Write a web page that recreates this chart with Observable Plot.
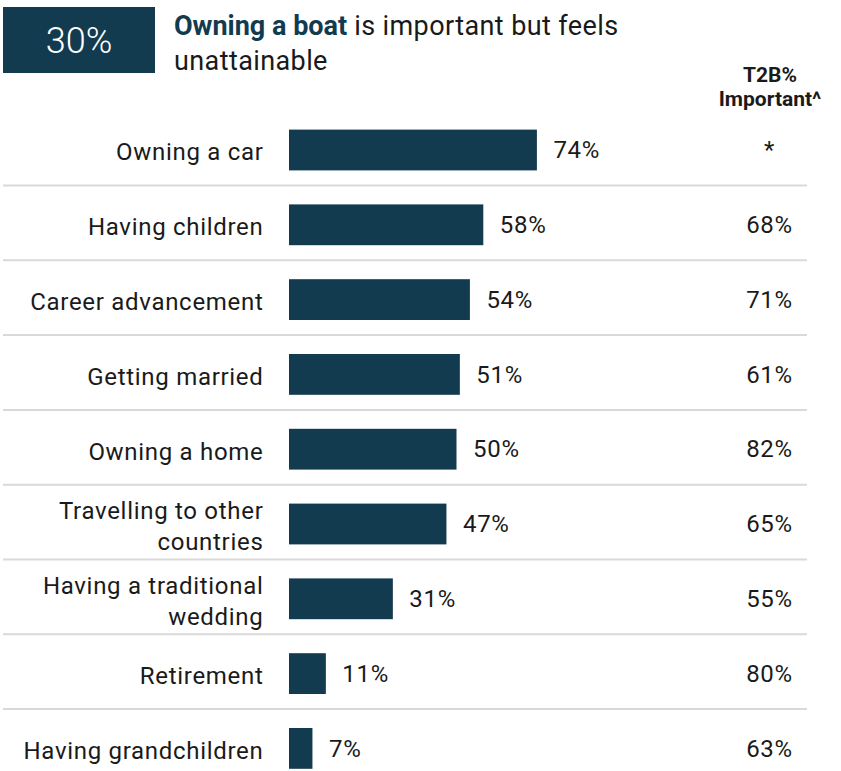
<!DOCTYPE html>
<html><head><meta charset="utf-8">
<script src="https://cdn.jsdelivr.net/npm/d3@7"></script>
<script src="https://cdn.jsdelivr.net/npm/@observablehq/plot@0.6"></script>
<style>
body{margin:0;background:#fff;font-family:Roboto,sans-serif;}
#wrap{position:relative;width:841px;height:771px;}
#wrap svg{position:absolute;left:0;top:0;}
#badge{position:absolute;left:3px;top:7px;width:152px;height:66px;background:#133b4f;color:#fff;font-weight:300;font-size:36px;display:flex;align-items:center;justify-content:center;padding-top:2px;box-sizing:border-box;}
.tl{position:absolute;left:174px;font-size:27px;letter-spacing:0.4px;line-height:35px;color:#1a1a1a;white-space:nowrap;}
#t1{top:9px;display:flex;}
#t2{top:44px;}
#t1 .b{color:#133b4f;font-weight:700;letter-spacing:0;}
#t1 .r{margin-left:7px;}
#colhead{position:absolute;left:705px;width:130px;top:63px;text-align:center;font-weight:700;font-size:21px;line-height:24px;color:#1a1a1a;}
</style></head>
<body><div id="wrap">
<div id="badge">30%</div>
<div class="tl" id="t1"><span class="b">Owning a boat</span><span class="r">is important but feels</span></div>
<div class="tl" id="t2">unattainable</div>
<div id="colhead">T2B%<br>Important^</div>
</div>
<script>
const categories = ["Owning a car","Having children","Career advancement","Getting married","Owning a home","Travelling to other\ncountries","Having a traditional\nwedding","Retirement","Having grandchildren"];
const unattainable = [74,58,54,51,50,47,31,11,7];
const important = [null,68,71,61,82,65,55,80,63];

const rows = categories.map((c,i)=>({cat:c, v:unattainable[i], imp:important[i]}));
const ink = "#1a1a1a";
const chart = Plot.plot({
  width:841, height:771,
  marginLeft:3, marginRight:34, marginTop:0, marginBottom:0,
  style:{fontFamily:"Roboto, sans-serif", fontSize:"24px", background:"white", overflow:"visible", letterSpacing:"0.7px"},
  x:{domain:[0,100], range:[289,624], axis:null},
  y:{domain:categories, range:[112.6,785.8], padding:0, round:false, axis:null},
  marks:[
    Plot.ruleY(categories.slice(0,-1), {y:d=>d, dy:35, stroke:"#d9d9d9", strokeWidth:2}),
    Plot.barX(rows, {y:"cat", x:"v", fill:"#133b4f", insetTop:17, insetBottom:17}),
    Plot.text(rows, {y:"cat", x:()=>0, text:"cat", textAnchor:"end", dx:-26, fontSize:24, fill:ink, lineHeight:1.3}),
    Plot.text(rows, {y:"cat", x:"v", text:d=>d.v+"%", textAnchor:"start", dx:16, fontSize:24, fill:ink}),
    Plot.text(rows, {y:"cat", frameAnchor:"right", text:d=>d.imp==null?"*":d.imp+"%", textAnchor:"middle", dx:-38, fontSize:24, fill:ink})
  ]
});
document.getElementById("wrap").prepend(chart);
</script>
</body></html>
